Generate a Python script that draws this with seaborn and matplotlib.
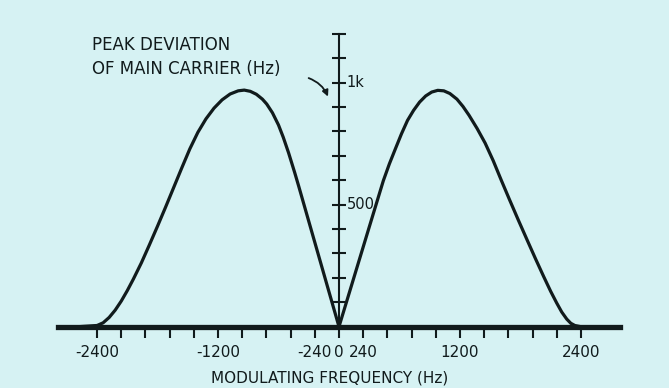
import numpy as np
import pandas as pd
import matplotlib
matplotlib.use("Agg")
import matplotlib.pyplot as plt
import seaborn as sns

# Peak deviation of the main carrier against modulating frequency
freq_hz = [-2590, -2400, -2340, -2280, -2220, -2160, -2100, -2040, -1960,
           -1880, -1800, -1720, -1640, -1560, -1480, -1400, -1320, -1240,
           -1160, -1080, -1000, -940, -880, -820, -760, -717, -660, -600,
           -553, -500, -440, -400, -300, -150, 0,
           150, 300, 440, 500, 560, 620, 680, 740, 800, 860, 920, 980, 1040,
           1100, 1170, 1230, 1290, 1370, 1450, 1530, 1610, 1690, 1780, 1870,
           1950, 2030, 2100, 2160, 2210, 2260, 2300, 2340, 2400, 2560]
deviation_hz = [0, 5, 16, 38, 68, 105, 148, 195, 262,
                336, 412, 490, 570, 650, 728, 796, 851, 895,
                929, 953, 966, 969, 964, 952, 932, 912, 876, 826,
                776, 712, 632, 576, 432, 216, 0,
                204, 408, 598, 667, 729, 790, 845, 886, 920, 945, 961, 968, 966,
                955, 932, 902, 866, 812, 752, 680, 600, 522, 436, 352,
                278, 206, 145, 97, 60, 31, 14, 5, 0, 0]

x_ticks = list(range(-2400, 2401, 240))
x_labels = {-2400: "-2400", -1200: "-1200", -240: "-240", 0: "0",
            240: "240", 1200: "1200", 2400: "2400"}
y_ticks = list(range(100, 1201, 100))
y_labels = {500: "500", 1000: "1k"}

BG = "#d6f2f3"
INK = "#111b1c"

sns.set_theme(style="white")
plt.rcParams["font.family"] = ["DejaVu Sans"]

fig = plt.figure(figsize=(6.69, 3.88), dpi=100, facecolor=BG)
ax = fig.add_axes([0, 0, 1, 1], facecolor=BG)

df = pd.DataFrame({"f": freq_hz, "d": deviation_hz})
sns.lineplot(data=df, x="f", y="d", ax=ax, color=INK, linewidth=2.3,
             sort=False, estimator=None)
ax.lines[0].set_solid_joinstyle("round")

ax.set_xlim(-3363, 3274)
ax.set_ylim(-251, 1338)

for side in ("top", "right"):
    ax.spines[side].set_visible(False)
ax.spines["bottom"].set_position(("data", 0))
ax.spines["bottom"].set_bounds(-2790, 2790)
ax.spines["bottom"].set_linewidth(3.8)
ax.spines["bottom"].set_color(INK)
ax.spines["left"].set_position(("data", 0))
ax.spines["left"].set_bounds(0, 1200)
ax.spines["left"].set_linewidth(1.5)
ax.spines["left"].set_color(INK)

ax.set_xticks(x_ticks)
ax.set_xticklabels([x_labels.get(t, "") for t in x_ticks])
ax.tick_params(axis="x", direction="out", length=8, width=1.5, color=INK,
               labelcolor=INK, labelsize=11, pad=5, bottom=True)
ax.set_yticks(y_ticks)
ax.set_yticklabels([])
ax.tick_params(axis="y", direction="inout", length=10, width=1.5, color=INK,
               left=True)
ax.set_xlabel("")
ax.set_ylabel("")

for val, txt in y_labels.items():
    ax.text(75, val, txt, ha="left", va="center", fontsize=10.5, color=INK)

fig.text(329.5 / 669, 1 - 378 / 388, "MODULATING FREQUENCY (Hz)",
         ha="center", va="center", fontsize=11, color=INK)
fig.text(92 / 669, 1 - 44.5 / 388, "PEAK DEVIATION",
         ha="left", va="center", fontsize=12, color=INK)
fig.text(92 / 669, 1 - 69.5 / 388, "OF MAIN CARRIER (Hz)",
         ha="left", va="center", fontsize=12, color=INK)

ax.annotate("", xy=(-99, 932), xytext=(-327, 1022),
            arrowprops=dict(arrowstyle="-|>", color=INK, lw=1.3,
                            mutation_scale=9,
                            connectionstyle="arc3,rad=-0.25"))

fig.savefig("out.png", dpi=100, facecolor=BG)
